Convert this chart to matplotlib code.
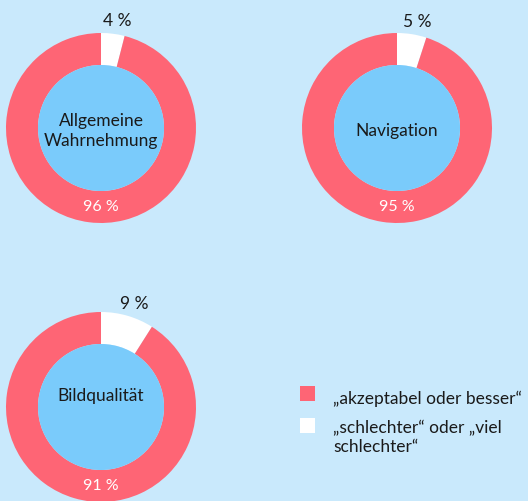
import matplotlib.pyplot as plt
import numpy as np
from matplotlib.patches import Circle, Rectangle

plt.rcParams["font.family"] = ["Lato", "DejaVu Sans"]

# dati
categorie = ["Allgemeine\nWahrnehmung", "Navigation", "Bildqualität"]
gut = [96, 95, 91]
schlecht = [4, 5, 9]
legenda = ["\u201eakzeptabel oder besser\u201c",
           "\u201eschlechter\u201c oder \u201eviel\nschlechter\u201c"]

ROSSO = "#fe6575"
BIANCO = "#ffffff"
SFONDO = "#c9e9fc"
INTERNO = "#7acbfb"
TESTO = "#1a1a1a"

W, H = 528, 501
centri = [(101, 128), (397, 128), (101, 407)]
spost = [-3, -3, 11]  # spostamento verticale del nome nel cerchio
R = 95
R_in = 63

fig = plt.figure(figsize=(W / 100, H / 100), dpi=100)
fig.patch.set_facecolor(SFONDO)
ax = fig.add_axes([0, 0, 1, 1])

for nome, g, s, (cx, cy), dy in zip(categorie, gut, schlecht, centri, spost):
    cy = H - cy
    ax.pie([s, g], colors=[BIANCO, ROSSO], startangle=90, counterclock=False,
           center=(cx, cy), radius=R, wedgeprops=dict(width=R - R_in, linewidth=0),
           frame=True)
    ax.add_patch(Circle((cx, cy), R_in, color=INTERNO, lw=0))
    ax.text(cx, cy + dy, nome, ha="center", va="center", fontsize=12.5, color=TESTO,
            linespacing=1.3)
    # etichetta del segmento bianco
    ang = np.deg2rad(90 - s * 3.6 / 2 - 1.5)
    ax.text(cx + 1.16 * R * np.cos(ang), cy + 1.14 * R * np.sin(ang), f"{s} %",
            ha="center", va="center", fontsize=12.5, color=TESTO)
    ax.text(cx, cy - 0.83 * R, f"{g} %", ha="center", va="center",
            fontsize=11.5, color="white")

ax.set_xlim(0, W)
ax.set_ylim(0, H)
ax.set_aspect("equal")
ax.axis("off")

# legenda
for colore, testo, y in zip([ROSSO, BIANCO], legenda, [394, 426]):
    ax.add_patch(Rectangle((300, H - y - 7), 15, 15, color=colore, lw=0))
    if "\n" in testo:
        ax.text(333, H - y + 6, testo, ha="left", va="top", fontsize=12.5,
                color=TESTO, linespacing=1.25)
    else:
        ax.text(333, H - y - 5, testo, ha="left", va="center", fontsize=12.5,
                color=TESTO)

fig.savefig("out.png", dpi=100, facecolor=SFONDO)
